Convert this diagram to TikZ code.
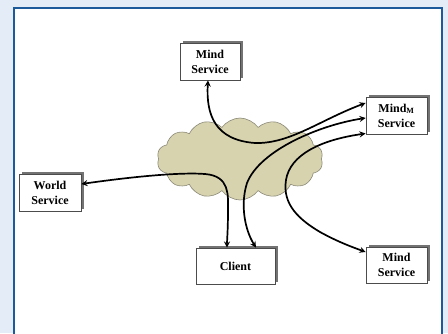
\documentclass[tikz,border=0pt]{standalone}
\usepackage{fontspec}
\setmainfont{Liberation Serif}
\usetikzlibrary{shapes.symbols,shadows}
\definecolor{pagebg}{HTML}{E4ECF8}
\definecolor{frameblue}{HTML}{1D5A9C}
\definecolor{cloudfill}{HTML}{D7D3AF}
\definecolor{cloudline}{HTML}{8C8A78}
\tikzset{
  svcbox/.style={draw=black!70,fill=white,line width=0.8pt,align=center,
    inner sep=0pt,font=\bfseries\fontsize{12}{15}\selectfont,
    minimum width=61pt,minimum height=37pt,
    general shadow={fill=black!55,shadow xshift=3pt,shadow yshift=2.5pt}},
  link/.style={<->,line width=1.7pt,black}
}
\begin{document}
\begin{tikzpicture}[x=1pt,y=-1pt,>=stealth]
  \useasboundingbox (0,0) rectangle (448,333);
  \fill[pagebg] (0,0) rectangle (448,333);
  \draw[frameblue,line width=2pt,fill=white] (14,8) rectangle (442,345);
  % the network
  \node[cloud,cloud puffs=14,cloud puff arc=110,cloud ignores aspect,
    minimum width=166pt,minimum height=82pt,inner sep=0pt,
    fill=cloudfill,draw=cloudline,line width=0.6pt] (net) at (240,159) {};
  % services
  \node[svcbox,minimum width=60pt] (mindtop) at (210,61.5) {Mind\\Service};
  \node[svcbox] (mindm) at (396.5,115.5) {Mind$_{\mathbf{M}}$\\Service};
  \node[svcbox,minimum width=62pt] (world) at (50,192.5) {World\\Service};
  \node[svcbox,minimum width=79pt,minimum height=36pt] (client) at (235.5,266) {Client};
  \node[svcbox,minimum height=36pt] (mindbot) at (396.5,265) {Mind\\Service};
  % links through the network
  \draw[link] ([xshift=-2pt]mindtop.south) .. controls (206,115) and (215,140) .. (255,143)
    .. controls (290,144) and (320,120) .. ([yshift=12.5pt]mindm.west);
  \draw[link] ([yshift=-2.5pt]mindm.west) .. controls (320,125) and (260,150) .. (247,183)
    .. controls (240,205) and (245,230) .. ([xshift=20.5pt]client.north);
  \draw[link] ([yshift=-18pt]mindm.west) .. controls (320,140) and (290,155) .. (286,180)
    .. controls (282,205) and (300,220) .. (320,232)
    .. controls (340,243) and (355,248) .. ([yshift=13pt]mindbot.west);
  \draw[link] ([yshift=8.5pt]world.east) .. controls (130,177) and (180,172) .. (205,174)
    .. controls (230,176) and (228,195) .. (228,210)
    .. controls (228,230) and (227,240) .. ([xshift=-8.5pt]client.north);
\end{tikzpicture}
\end{document}
